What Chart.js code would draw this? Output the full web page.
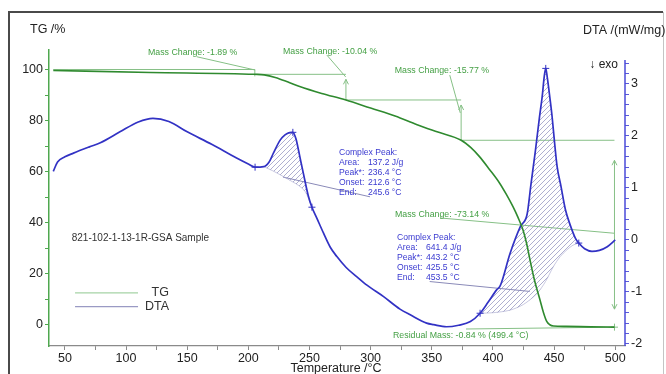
<!DOCTYPE html>
<html>
<head>
<meta charset="utf-8">
<script src="https://cdn.jsdelivr.net/npm/chart.js@4.4.1/dist/chart.umd.min.js"></script>
<style>
  html, body { margin: 0; padding: 0; background: #ffffff; }
  #wrap { width: 666px; height: 374px; position: relative; }
</style>
</head>
<body>
<div id="wrap"><canvas id="chart" width="666" height="374"></canvas></div>
<script>
// ---- TG curve: temperature (°C) and remaining mass (%) ----
const tgTemp = [40.5, 120, 205.3, 213, 222, 232, 242, 260, 279.8, 300, 320, 338, 355, 374,
  382, 389, 397, 405.5, 411, 416.4, 420.5, 424.6, 427.5, 430.3, 434, 438.5, 441.5, 444,
  446.5, 449.5, 460, 480, 499.4];
const tgMass = [99.6, 98.85, 98.11, 97.9, 96.9, 95.2, 93.3, 90.6, 88.07, 84.9, 81.8, 78.4, 75.5, 72.30,
  69.4, 65.9, 61.0, 55.5, 51.1, 46.3, 42.1, 37.2, 32.0, 25.5, 17.5, 9.8, 4.6, 1.4,
  0.1, -0.4, -0.55, -0.72, -0.84];

// ---- DTA curve: temperature (°C) and signal (mW/mg) ----
const dtaTemp = [40.5, 44, 50, 57, 70, 79, 95, 110, 122, 135, 150, 170, 190, 200, 205.5,
  212.6, 217, 220.5, 226, 230, 233, 236.4, 239, 241, 243, 245, 249, 252, 256, 261.5, 267,
  272.4, 280, 288.8, 297, 310.6, 324, 332.4, 345.8, 351.5, 362, 372, 381.6, 389.5, 396,
  403, 406, 414, 422.5, 428, 431, 434.8, 438, 440.3, 442, 443.2, 444.5, 446.5, 448.4,
  450.5, 452.5, 455.5, 459.3, 463, 467.5, 470.2, 475, 481, 487, 493.5, 500];
const dtaSignal = [1.32, 1.50, 1.60, 1.67, 1.79, 1.87, 2.08, 2.27, 2.34, 2.28, 2.08, 1.84, 1.58, 1.46, 1.40,
  1.41, 1.50, 1.67, 1.92, 2.02, 2.06, 2.07, 1.94, 1.73, 1.50, 1.28, 0.85, 0.63, 0.42, 0.13, -0.14,
  -0.32, -0.53, -0.71, -0.87, -1.09, -1.33, -1.44, -1.60, -1.63, -1.67, -1.64, -1.57, -1.41, -1.20,
  -0.96, -0.88, -0.26, 0.26, 0.50, 1.05, 1.73, 2.35, 2.76, 3.15, 3.30, 3.12, 2.75, 2.37,
  1.85, 1.41, 1.05, 0.58, 0.30, 0.03, -0.06, -0.17, -0.22, -0.20, -0.13, 0.00];

// ---- integration baselines of the two complex peaks ----
const peak1BaseTemp = [212.6, 220, 228.6, 236, 241, 246.5, 250.5, 252];
const peak1BaseSignal = [1.41, 1.33, 1.22, 1.12, 1.05, 0.93, 0.72, 0.63];
const peak2BaseTemp = [389.5, 400, 414, 425, 436, 443, 449.5, 455, 460.5, 465.5, 470.2];
const peak2BaseSignal = [-1.41, -1.40, -1.35, -1.24, -1.03, -0.80, -0.51, -0.32, -0.19, -0.10, -0.06];

// ---- evaluation markers on the DTA curve ----
const dtaMarkTemp = [205.5, 236.4, 252, 389.5, 443.2, 470.2];
const dtaMarkSignal = [1.40, 2.07, 0.63, -1.41, 3.30, -0.06];

// ---- mass change steps (%) ----
const massLevels = [100, 98.11, 88.07, 72.30, -0.84];
const massStepTemps = [205.3, 279.8, 374.0, 499.4];
const massLabels = ['Mass Change: -1.89 %', 'Mass Change: -10.04 %', 'Mass Change: -15.77 %', 'Mass Change: -73.14 %'];
const residualLabel = 'Residual Mass: -0.84 % (499.4 °C)';

// ---- peak evaluation texts ----
const peakFieldNames = ['Area:', 'Peak*:', 'Onset:', 'End:'];
const peak1Values = ['137.2 J/g', '236.4 °C', '212.6 °C', '245.6 °C'];
const peak2Values = ['641.4 J/g', '443.2 °C', '425.5 °C', '453.5 °C'];

// ---- ticks ----
const xTickLabels = [50, 100, 150, 200, 250, 300, 350, 400, 450, 500];
const tgTickLabels = [0, 20, 40, 60, 80, 100];
const dtaTickLabels = [-2, -1, 0, 1, 2, 3];

const FONT = "'Liberation Sans', Arial, sans-serif";
const TG_COLOR = '#2f8a2f';
const DTA_COLOR = '#3232c4';
const NOTE_GREEN = '#45a045';
const NOTE_LINE = '#86c086';
const NOTE_BLUE = '#3a3ad0';

const pts = (xs, ys) => xs.map((x, i) => ({ x: x, y: ys[i] }));
const dtaRange = (t0, t1) => pts(dtaTemp, dtaSignal).filter(p => p.x >= t0 - 1e-9 && p.x <= t1 + 1e-9);

// diagonal hatching used for the integrated peak areas
function hatch(color) {
  const s = 5;
  const c = document.createElement('canvas');
  c.width = s; c.height = s;
  const g = c.getContext('2d');
  g.strokeStyle = color;
  g.lineWidth = 0.7;
  g.beginPath();
  g.moveTo(0, s); g.lineTo(s, 0);
  g.moveTo(-1, 1); g.lineTo(1, -1);
  g.moveTo(s - 1, s + 1); g.lineTo(s + 1, s - 1);
  g.stroke();
  return g.createPattern(c, 'repeat');
}
const hatchFill = hatch('#8c8cbc');

function line(ctx, x1, y1, x2, y2) {
  ctx.beginPath(); ctx.moveTo(x1, y1); ctx.lineTo(x2, y2); ctx.stroke();
}
function arrowHead(ctx, x, y, dir) {
  // dir: -1 points up, +1 points down
  ctx.beginPath();
  ctx.moveTo(x - 2.5, y - dir * 5);
  ctx.lineTo(x, y);
  ctx.lineTo(x + 2.5, y - dir * 5);
  ctx.stroke();
}

const notesPlugin = {
  id: 'notes',
  beforeDatasetsDraw(chart) {
    const { ctx, scales } = chart;
    const X = v => scales.x.getPixelForValue(v);
    const T = v => scales.y.getPixelForValue(v);
    const D = v => scales.y2.getPixelForValue(v);
    ctx.save();
    ctx.lineWidth = 1;
    ctx.strokeStyle = NOTE_LINE;

    // mass levels between the steps
    line(ctx, X(tgTemp[0]), T(massLevels[0]), X(massStepTemps[0]), T(massLevels[0]));
    for (let i = 1; i < 4; i++) {
      line(ctx, X(massStepTemps[i - 1]), T(massLevels[i]), X(massStepTemps[i]), T(massLevels[i]));
    }
    // step arrows
    line(ctx, X(massStepTemps[0]), T(massLevels[0]), X(massStepTemps[0]), T(massLevels[1]) + 2);
    for (let i = 1; i < 3; i++) {
      const xs = X(massStepTemps[i]);
      const top = T(massLevels[i]) + 5;
      line(ctx, xs, T(massLevels[i + 1]), xs, top);
      arrowHead(ctx, xs, top, -1);
    }
    const xe = X(massStepTemps[3]);
    const aTop = T(massLevels[3]) + 20, aBot = T(massLevels[4]) - 18;
    line(ctx, xe, aTop, xe, aBot);
    arrowHead(ctx, xe, aTop, -1);
    arrowHead(ctx, xe, aBot, 1);

    // leader lines from the mass change texts
    const tgLeaders = [[157.8, 105.0, 205.5, 99.8], [264.1, 105.7, 279.6, 97.1],
      [364.7, 97.8, 373.3, 83.0], [356.7, 41.9, 499.4, 35.9], [378, -1.57, 499.4, -0.84]];
    tgLeaders.forEach(l => line(ctx, X(l[0]), T(l[1]), X(l[2]), T(l[3])));

    // mass change texts
    ctx.fillStyle = NOTE_GREEN;
    ctx.font = '8.8px ' + FONT;
    ctx.textBaseline = 'middle';
    ctx.textAlign = 'left';
    const tgTextPos = [[117.9, 106.8], [228.3, 107.2], [319.7, 99.4], [319.9, 43.4]];
    massLabels.forEach((s, i) => ctx.fillText(s, X(tgTextPos[i][0]), T(tgTextPos[i][1])));
    ctx.fillText(residualLabel, X(318.3), T(-4.3));

    // peak evaluation leaders
    ctx.strokeStyle = '#8a8ab8';
    line(ctx, X(228.3), D(1.21), X(299.5), D(0.83));
    line(ctx, X(348.3), D(-0.80), X(430.1), D(-0.99));

    // peak evaluation texts
    ctx.fillStyle = NOTE_BLUE;
    ctx.font = '8.6px ' + FONT;
    const blocks = [[274.1, 1.687, peak1Values], [321.6, 0.052, peak2Values]];
    blocks.forEach(b => {
      const x0 = X(b[0]), y0 = D(b[1]);
      ctx.fillText('Complex Peak:', x0, y0);
      peakFieldNames.forEach((n, i) => {
        ctx.fillText(n, x0, y0 + 10 * (i + 1));
        ctx.fillText(b[2][i], x0 + 29, y0 + 10 * (i + 1));
      });
    });

    // sample name
    ctx.fillStyle = '#333333';
    ctx.font = '10px ' + FONT;
    ctx.fillText('821-102-1-13-1R-GSA Sample', X(55.6), T(33.9));

    // legend
    ctx.lineWidth = 1.2;
    ctx.strokeStyle = '#a6d3a6';
    line(ctx, X(58.3), T(12.6), X(109.8), T(12.6));
    ctx.strokeStyle = '#9a9ac4';
    line(ctx, X(58.3), T(7.2), X(109.8), T(7.2));
    ctx.fillStyle = '#333333';
    ctx.font = '12.5px ' + FONT;
    ctx.textAlign = 'right';
    ctx.fillText('TG', X(135.1), T(12.6));
    ctx.fillText('DTA', X(135.1), T(7.2));
    ctx.restore();
  },
  afterDraw(chart) {
    const { ctx, chartArea, scales } = chart;
    ctx.save();
    // outer frame
    ctx.strokeStyle = '#4a4a4a';
    ctx.lineWidth = 2;
    ctx.beginPath();
    ctx.moveTo(9, 380); ctx.lineTo(9, 12); ctx.lineTo(663, 12);
    ctx.stroke();
    ctx.strokeStyle = '#c4c4c4';
    ctx.lineWidth = 1;
    line(ctx, 663.5, 12, 663.5, 374);

    // DTA axis line
    ctx.strokeStyle = '#4a4ad8';
    ctx.lineWidth = 1.5;
    line(ctx, scales.y2.left, chartArea.top + 10, scales.y2.left, chartArea.bottom);

    // axis titles
    ctx.fillStyle = '#222222';
    ctx.font = '12.5px ' + FONT;
    ctx.textBaseline = 'middle';
    ctx.textAlign = 'left';
    ctx.fillText('TG /%', 30, 30);
    ctx.fillText('DTA /(mW/mg)', 583, 31);
    ctx.font = '12px ' + FONT;
    ctx.textAlign = 'right';
    ctx.fillText('↓ exo', scales.y2.left - 7, chartArea.top + 15);
    ctx.textAlign = 'center';
    ctx.font = '12.5px ' + FONT;
    ctx.fillText('Temperature /°C', 336, 369);
    ctx.restore();
  }
};

const xMinor = [];
for (let v = 50; v <= 500; v += 25) xMinor.push(v);
const tgMinor = [];
for (let v = 0; v <= 100; v += 10) tgMinor.push(v);
const dtaMinor = [];
for (let k = -10; k <= 17; k++) dtaMinor.push(Math.round(k * 2) / 10);

new Chart(document.getElementById('chart'), {
  type: 'line',
  data: {
    datasets: [
      { label: 'TG', data: pts(tgTemp, tgMass), yAxisID: 'y', borderColor: TG_COLOR, borderWidth: 1.6,
        pointRadius: 0, cubicInterpolationMode: 'monotone', fill: false },
      { label: 'DTA', data: pts(dtaTemp, dtaSignal), yAxisID: 'y2', borderColor: DTA_COLOR, borderWidth: 1.7,
        pointRadius: 0, cubicInterpolationMode: 'monotone', fill: false },
      { label: 'markers', data: pts(dtaMarkTemp, dtaMarkSignal), yAxisID: 'y2', showLine: false,
        pointStyle: 'cross', pointRadius: 3.5, borderColor: DTA_COLOR, borderWidth: 1, fill: false },
      { label: 'residual', data: [{ x: massStepTemps[3], y: massLevels[4] }], yAxisID: 'y', showLine: false,
        pointStyle: 'cross', pointRadius: 3.5, borderColor: NOTE_LINE, borderWidth: 1, fill: false },
      { label: 'peak 1', data: dtaRange(212.6, 252), yAxisID: 'y2', borderWidth: 0, pointRadius: 0,
        cubicInterpolationMode: 'monotone', backgroundColor: hatchFill, fill: 5 },
      { label: 'base 1', data: pts(peak1BaseTemp, peak1BaseSignal), yAxisID: 'y2', borderColor: '#a4a4cc',
        borderWidth: 0.6, pointRadius: 0, tension: 0.3, fill: false },
      { label: 'peak 2', data: dtaRange(389.5, 470.2), yAxisID: 'y2', borderWidth: 0, pointRadius: 0,
        cubicInterpolationMode: 'monotone', backgroundColor: hatchFill, fill: 7 },
      { label: 'base 2', data: pts(peak2BaseTemp, peak2BaseSignal), yAxisID: 'y2', borderColor: '#a4a4cc',
        borderWidth: 0.6, pointRadius: 0, tension: 0.3, fill: false }
    ]
  },
  options: {
    responsive: false,
    animation: false,
    devicePixelRatio: 1,
    layout: { padding: { top: 50, left: 0, right: 0, bottom: 0 } },
    plugins: { legend: { display: false }, tooltip: { enabled: false }, title: { display: false } },
    scales: {
      x: {
        type: 'linear', min: 37, max: 508,
        afterFit: s => { s.height = 28; },
        afterBuildTicks: s => { s.ticks = xMinor.map(v => ({ value: v })); },
        ticks: { autoSkip: false, maxRotation: 0, padding: 1, color: '#222222',
          font: { family: FONT, size: 12.5 },
          callback: v => (xTickLabels.includes(v) ? String(v) : '') },
        grid: { drawOnChartArea: false, drawTicks: true, tickLength: 4, color: '#8a8a8a' },
        border: { display: true, color: '#8a8a8a', width: 1.2 }
      },
      y: {
        type: 'linear', position: 'left', min: -8.22, max: 107.63,
        afterFit: s => { s.width = 49; },
        afterBuildTicks: s => { s.ticks = tgMinor.map(v => ({ value: v })); },
        ticks: { autoSkip: false, padding: 2, color: '#222222', font: { family: FONT, size: 12.5 },
          callback: v => (tgTickLabels.includes(v) ? String(v) : '') },
        grid: { drawOnChartArea: false, drawTicks: true, tickLength: 4, color: '#4fa84f' },
        border: { display: true, color: '#4fa84f', width: 1.5 }
      },
      y2: {
        type: 'linear', position: 'right', min: -2.04, max: 3.654,
        afterFit: s => { s.width = 41; },
        afterBuildTicks: s => { s.ticks = dtaMinor.map(v => ({ value: v })); },
        ticks: { autoSkip: false, padding: 2, color: '#222222', font: { family: FONT, size: 12.5 },
          callback: v => (dtaTickLabels.includes(Math.round(v)) && Math.abs(v - Math.round(v)) < 1e-6 ? String(Math.round(v)) : '') },
        grid: { drawOnChartArea: false, drawTicks: true, tickLength: 4, color: '#5a5ad8' },
        border: { display: false }
      }
    }
  },
  plugins: [notesPlugin]
});
</script>
</body>
</html>
